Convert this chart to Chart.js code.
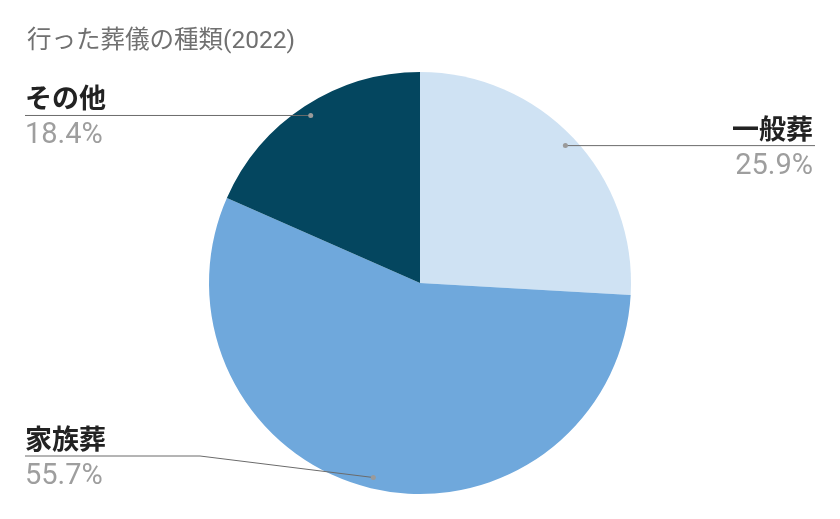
<!DOCTYPE html>
<html>
<head>
<meta charset="utf-8">
<script src="https://cdn.jsdelivr.net/npm/chart.js@4/dist/chart.umd.min.js"></script>
<style>
html,body{margin:0;padding:0;background:#fff;}
#wrap{width:840px;height:519px;position:relative;}
</style>
</head>
<body>
<div id="wrap"><canvas id="c" width="840" height="519"></canvas></div>
<script>
const titleText = "行った葬儀の種類(2022)";
const categories = ["一般葬", "家族葬", "その他"];
const values = [25.9, 55.7, 18.4];
const sliceColors = ["#cfe2f3", "#6fa8dc", "#04465f"];

// label layout: side and line y (y=null -> same as dot)
const labelLayout = [
  {side: "right", lineY: null},
  {side: "left", lineY: 456, bendX: 200},
  {side: "left", lineY: null}
];

const labelPlugin = {
  id: "pieLabels",
  afterDraw(chart) {
    const ctx = chart.ctx;
    ctx.save();
    // title
    ctx.fillStyle = "#707070";
    ctx.font = "24.5px 'Roboto', 'Noto Sans CJK JP', sans-serif";
    ctx.textBaseline = "middle";
    ctx.textAlign = "left";
    ctx.fillText(titleText, 27, 42);

    const meta = chart.getDatasetMeta(0);
    const total = values.reduce((a, b) => a + b, 0);
    meta.data.forEach((arc, i) => {
      const p = arc.getProps(["x", "y", "startAngle", "endAngle", "outerRadius"], true);
      const mid = (p.startAngle + p.endAngle) / 2;
      const r = p.outerRadius * 0.948;
      const dx = p.x + Math.cos(mid) * r;
      const dy = p.y + Math.sin(mid) * r;
      const lay = labelLayout[i];
      const ly = lay.lineY == null ? dy : lay.lineY;
      ctx.strokeStyle = "#6b6b6b";
      ctx.lineWidth = 1;
      ctx.beginPath();
      if (lay.side === "left") {
        ctx.moveTo(25, ly);
        if (lay.bendX) { ctx.lineTo(lay.bendX, ly); }
        ctx.lineTo(dx, dy);
      } else {
        ctx.moveTo(dx, dy);
        ctx.lineTo(815, ly);
      }
      ctx.stroke();
      ctx.fillStyle = "#9a9a9a";
      ctx.beginPath();
      ctx.arc(dx, dy, 2.5, 0, Math.PI * 2);
      ctx.fill();

      ctx.textAlign = lay.side === "left" ? "left" : "right";
      const txx = lay.side === "left" ? 25 : 813;
      ctx.textBaseline = "alphabetic";
      ctx.fillStyle = "#222222";
      ctx.font = "bold 27px 'Noto Sans CJK JP', sans-serif";
      ctx.fillText(categories[i], txx, ly - 7);
      ctx.fillStyle = "#9e9e9e";
      ctx.font = "29px 'Roboto', sans-serif";
      const pct = (values[i] / total * 100).toFixed(1) + "%";
      ctx.fillText(pct, txx, ly + 28);
    });
    ctx.restore();
  }
};

new Chart(document.getElementById("c"), {
  type: "pie",
  data: {
    labels: categories,
    datasets: [{
      data: values,
      backgroundColor: sliceColors,
      borderWidth: 0
    }]
  },
  options: {
    responsive: false,
    animation: false,
    layout: {padding: {top: 72, bottom: 25, left: 0, right: 0}},
    plugins: {
      legend: {display: false},
      tooltip: {enabled: false},
      title: {display: false}
    }
  },
  plugins: [labelPlugin]
});
</script>
</body>
</html>
